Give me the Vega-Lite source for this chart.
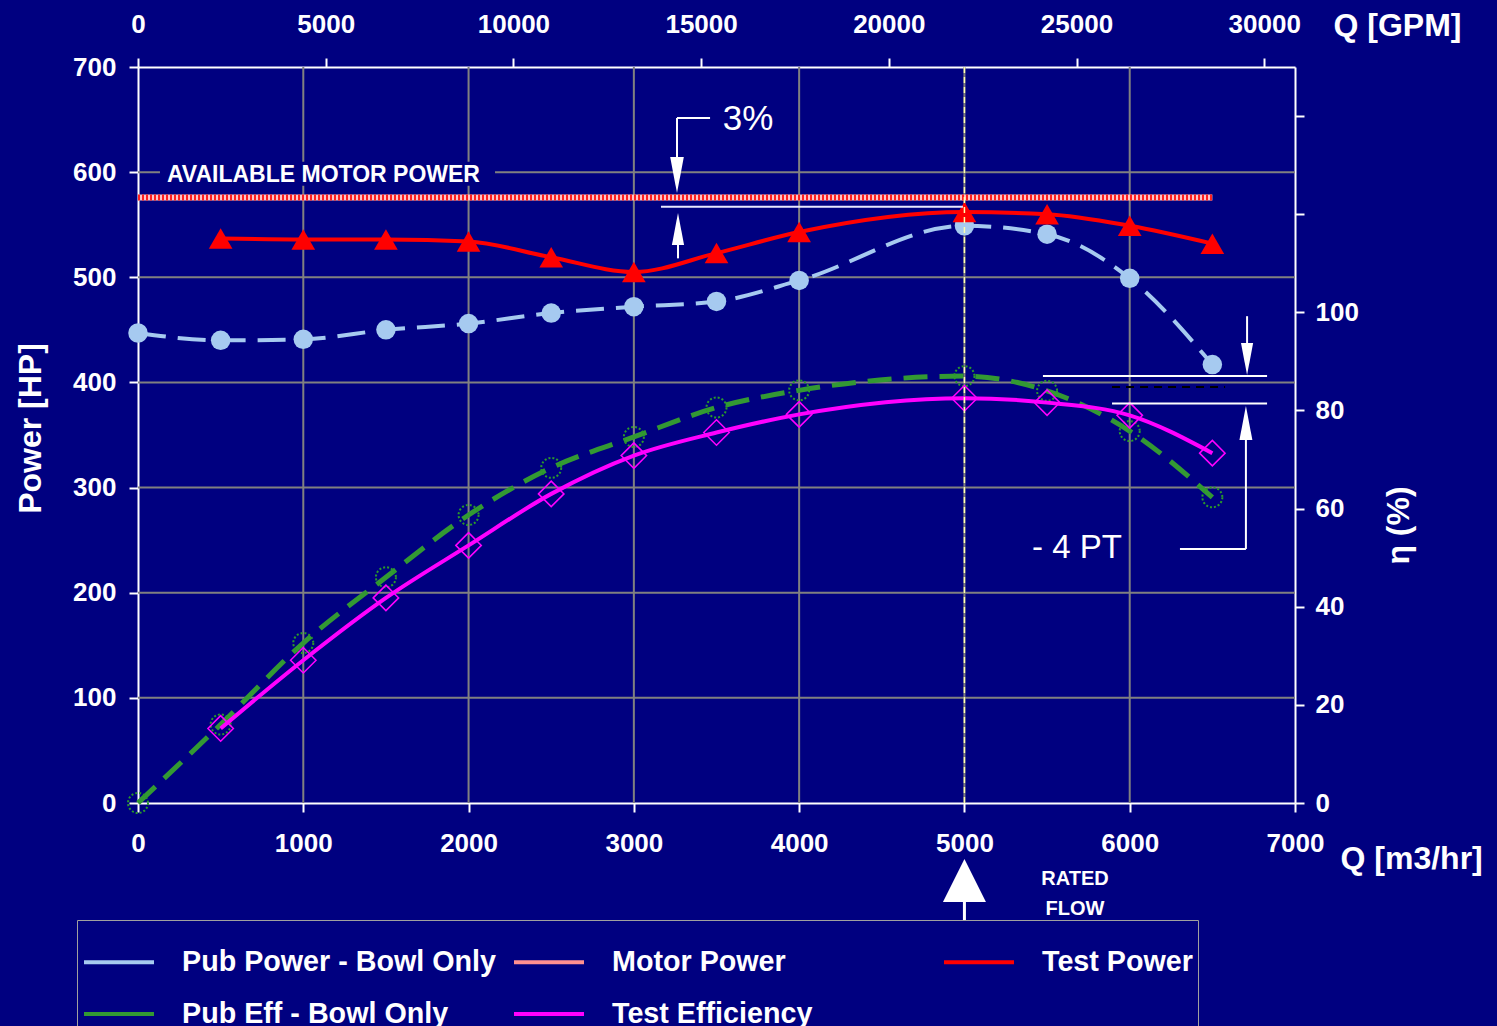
{
  "$schema": "https://vega.github.io/schema/vega-lite/v6.json",
  "width": 1157,
  "height": 736,
  "autosize": {"type": "none"},
  "padding": {"left": 138, "top": 67, "right": 202, "bottom": 223},
  "background": "#000080",
  "config": {
    "view": {"stroke": null},
    "font": "Liberation Sans",
    "axis": {
      "domainColor": "#ffffff", "domainWidth": 2,
      "tickColor": "#ffffff", "tickWidth": 2, "tickSize": 9,
      "labelColor": "#ffffff", "labelFont": "Liberation Sans", "labelFontSize": 26, "labelFontWeight": "bold",
      "titleColor": "#ffffff", "titleFont": "Liberation Sans", "titleFontSize": 32, "titleFontWeight": "bold",
      "grid": false, "labelOverlap": false, "labelFlush": false
    }
  },
  "datasets": {
    "power": [
      {"series": "Pub Power - Bowl Only", "Q": 0, "P": 447},
      {"series": "Pub Power - Bowl Only", "Q": 500, "P": 440},
      {"series": "Pub Power - Bowl Only", "Q": 1000, "P": 441},
      {"series": "Pub Power - Bowl Only", "Q": 1500, "P": 450},
      {"series": "Pub Power - Bowl Only", "Q": 2000, "P": 456},
      {"series": "Pub Power - Bowl Only", "Q": 2500, "P": 466},
      {"series": "Pub Power - Bowl Only", "Q": 3000, "P": 472},
      {"series": "Pub Power - Bowl Only", "Q": 3500, "P": 477},
      {"series": "Pub Power - Bowl Only", "Q": 4000, "P": 497},
      {"series": "Pub Power - Bowl Only", "Q": 5000, "P": 549},
      {"series": "Pub Power - Bowl Only", "Q": 5500, "P": 541},
      {"series": "Pub Power - Bowl Only", "Q": 6000, "P": 499},
      {"series": "Pub Power - Bowl Only", "Q": 6500, "P": 417},
      {"series": "Motor Power", "Q": 0, "P": 576},
      {"series": "Motor Power", "Q": 6500, "P": 576},
      {"series": "Test Power", "Q": 500, "P": 537},
      {"series": "Test Power", "Q": 1000, "P": 536},
      {"series": "Test Power", "Q": 1500, "P": 536},
      {"series": "Test Power", "Q": 2000, "P": 534},
      {"series": "Test Power", "Q": 2500, "P": 519},
      {"series": "Test Power", "Q": 3000, "P": 505},
      {"series": "Test Power", "Q": 3500, "P": 523},
      {"series": "Test Power", "Q": 4000, "P": 543},
      {"series": "Test Power", "Q": 5000, "P": 562},
      {"series": "Test Power", "Q": 5500, "P": 560},
      {"series": "Test Power", "Q": 6000, "P": 549},
      {"series": "Test Power", "Q": 6500, "P": 532}
    ],
    "eff": [
      {"series": "Pub Eff - Bowl Only", "Q": 0, "E": 0},
      {"series": "Pub Eff - Bowl Only", "Q": 500, "E": 16},
      {"series": "Pub Eff - Bowl Only", "Q": 1000, "E": 32.6},
      {"series": "Pub Eff - Bowl Only", "Q": 1500, "E": 46},
      {"series": "Pub Eff - Bowl Only", "Q": 2000, "E": 58.7},
      {"series": "Pub Eff - Bowl Only", "Q": 2500, "E": 68.3},
      {"series": "Pub Eff - Bowl Only", "Q": 3000, "E": 74.6},
      {"series": "Pub Eff - Bowl Only", "Q": 3500, "E": 80.6},
      {"series": "Pub Eff - Bowl Only", "Q": 4000, "E": 84.1},
      {"series": "Pub Eff - Bowl Only", "Q": 5000, "E": 87},
      {"series": "Pub Eff - Bowl Only", "Q": 5500, "E": 84},
      {"series": "Pub Eff - Bowl Only", "Q": 6000, "E": 75.8},
      {"series": "Pub Eff - Bowl Only", "Q": 6500, "E": 62.3},
      {"series": "Test Efficiency", "Q": 500, "E": 15.2},
      {"series": "Test Efficiency", "Q": 1000, "E": 29.1},
      {"series": "Test Efficiency", "Q": 1500, "E": 41.8},
      {"series": "Test Efficiency", "Q": 2000, "E": 52.5},
      {"series": "Test Efficiency", "Q": 2500, "E": 63},
      {"series": "Test Efficiency", "Q": 3000, "E": 70.8},
      {"series": "Test Efficiency", "Q": 3500, "E": 75.5},
      {"series": "Test Efficiency", "Q": 4000, "E": 79.2},
      {"series": "Test Efficiency", "Q": 5000, "E": 82.5},
      {"series": "Test Efficiency", "Q": 5500, "E": 81.6},
      {"series": "Test Efficiency", "Q": 6000, "E": 79},
      {"series": "Test Efficiency", "Q": 6500, "E": 71.3}
    ],
    "gridQ": [{"Q": 1000}, {"Q": 2000}, {"Q": 3000}, {"Q": 4000}, {"Q": 5000}, {"Q": 6000}],
    "gridP": [{"P": 100}, {"P": 200}, {"P": 300}, {"P": 400}, {"P": 500}, {"P": 600}],
    "one": [{}]
  },
  "resolve": {"scale": {"y": "independent"}, "axis": {"x": "independent", "y": "independent"}},
  "layer": [
    {
      "data": {"name": "gridQ"},
      "mark": {"type": "rule", "color": "#808080", "strokeWidth": 2},
      "encoding": {
        "x": {"field": "Q", "type": "quantitative", "scale": {"domain": [0, 7000], "nice": false, "zero": false}, "axis": null},
        "y": {"datum": 0, "scale": {"domain": [0, 700], "nice": false, "zero": false}, "axis": null},
        "y2": {"datum": 700}
      }
    },
    {
      "data": {"name": "gridP"},
      "mark": {"type": "rule", "color": "#808080", "strokeWidth": 2},
      "encoding": {
        "y": {"field": "P", "type": "quantitative", "scale": {"domain": [0, 700], "nice": false, "zero": false}, "axis": null},
        "x": {"datum": 0, "axis": null},
        "x2": {"datum": 7000}
      }
    },
    {
      "data": {"name": "one"},
      "mark": {"type": "rect", "color": "#000080"},
      "encoding": {
        "x": {"datum": 133, "axis": null}, "x2": {"datum": 2160},
        "y": {"datum": 587, "scale": {"domain": [0, 700], "nice": false, "zero": false}, "axis": null}, "y2": {"datum": 610}
      }
    },
    {
      "data": {"name": "power"},
      "transform": [{"filter": "datum.series === 'Pub Power - Bowl Only'"}],
      "mark": {"type": "line", "strokeWidth": 4, "strokeDash": [28, 12], "interpolate": "monotone"},
      "encoding": {
        "x": {"field": "Q", "type": "quantitative", "scale": {"domain": [0, 7000], "nice": false, "zero": false},
          "axis": {"orient": "bottom", "values": [0, 1000, 2000, 3000, 4000, 5000, 6000, 7000], "labelPadding": 18, "format": "d",
            "title": "Q [m3/hr]", "titleX": 1202, "titleY": 55, "titleAlign": "left", "titleAnchor": "start", "titleBaseline": "middle", "titleAngle": 0}},
        "y": {"field": "P", "type": "quantitative", "scale": {"domain": [0, 700], "nice": false, "zero": false},
          "axis": {"orient": "left", "values": [0, 100, 200, 300, 400, 500, 600, 700], "labelPadding": 13,
            "title": "Power [HP]", "titleX": -108, "titleY": 361, "titleAngle": 270, "titleAlign": "center", "titleBaseline": "middle"}},
        "color": {"field": "series", "type": "nominal",
          "scale": {"domain": ["Pub Power - Bowl Only", "Motor Power", "Test Power", "Pub Eff - Bowl Only", "Test Efficiency"], "range": ["#a6caf0", "#ff9090", "#ff0000", "#339933", "#ff00ff"]},
          "legend": {
            "title": null, "orient": "none", "legendX": -61, "legendY": 853, "direction": "horizontal", "columns": 3,
            "gridAlign": "all", "columnPadding": 10, "rowPadding": -32, "padding": 5,
            "fillColor": "#000080", "strokeColor": "#a0a0a0",
            "symbolType": "stroke", "symbolSize": 4900, "symbolStrokeWidth": 4, "symbolOffset": 0, "symbolDash": [], "symbolOpacity": 1,
            "labelFont": "Liberation Sans", "labelFontSize": 28.7, "labelFontWeight": "bold", "labelColor": "#ffffff", "labelOffset": 26, "labelLimit": 600
          }}
      }
    },
    {
      "data": {"name": "power"},
      "transform": [{"filter": "datum.series === 'Motor Power'"}],
      "mark": {"type": "line", "strokeWidth": 6, "color": "#ffc4c4"},
      "encoding": {
        "x": {"field": "Q", "type": "quantitative", "scale": {"domain": [0, 7000], "nice": false, "zero": false},
          "axis": {"orient": "top", "values": [0, 1135.62, 2271.25, 3406.87, 4542.49, 5678.11, 6813.74], "labelPadding": 21,
            "labelExpr": "format(round(datum.value * 4.402868), 'd')",
            "title": "Q [GPM]", "titleX": 1195, "titleY": -42, "titleAlign": "left", "titleAnchor": "start", "titleBaseline": "middle", "titleAngle": 0}},
        "y": {"field": "P", "type": "quantitative", "scale": {"domain": [0, 700], "nice": false, "zero": false}, "axis": null}
      }
    },
    {
      "data": {"name": "power"},
      "transform": [{"filter": "datum.series === 'Motor Power'"}],
      "mark": {"type": "line", "strokeWidth": 6, "color": "#ff2020", "strokeDash": [2, 2]},
      "encoding": {
        "x": {"field": "Q", "type": "quantitative", "axis": null},
        "y": {"field": "P", "type": "quantitative", "scale": {"domain": [0, 700], "nice": false, "zero": false}, "axis": null}
      }
    },
    {
      "data": {"name": "power"},
      "transform": [{"filter": "datum.series === 'Pub Power - Bowl Only'"}],
      "mark": {"type": "point", "shape": "circle", "filled": true, "size": 380, "color": "#a6caf0", "opacity": 1},
      "encoding": {
        "x": {"field": "Q", "type": "quantitative", "axis": null},
        "y": {"field": "P", "type": "quantitative", "scale": {"domain": [0, 700], "nice": false, "zero": false}, "axis": null}
      }
    },
    {
      "data": {"name": "power"},
      "transform": [{"filter": "datum.series === 'Test Power'"}],
      "mark": {"type": "line", "strokeWidth": 4, "interpolate": "monotone", "color": "#ff0000"},
      "encoding": {
        "x": {"field": "Q", "type": "quantitative", "axis": null},
        "y": {"field": "P", "type": "quantitative", "scale": {"domain": [0, 700], "nice": false, "zero": false}, "axis": null}
      }
    },
    {
      "data": {"name": "power"},
      "transform": [{"filter": "datum.series === 'Test Power'"}],
      "mark": {"type": "point", "shape": "triangle-up", "filled": true, "size": 560, "color": "#ff0000", "opacity": 1},
      "encoding": {
        "x": {"field": "Q", "type": "quantitative", "axis": null},
        "y": {"field": "P", "type": "quantitative", "scale": {"domain": [0, 700], "nice": false, "zero": false}, "axis": null}
      }
    },
    {
      "data": {"name": "eff"},
      "transform": [{"filter": "datum.series === 'Pub Eff - Bowl Only'"}],
      "mark": {"type": "line", "strokeWidth": 5, "strokeDash": [24, 12], "interpolate": "monotone", "color": "#339933"},
      "encoding": {
        "x": {"field": "Q", "type": "quantitative", "axis": null},
        "y": {"field": "E", "type": "quantitative", "scale": {"domain": [0, 150], "nice": false, "zero": false},
          "axis": {"orient": "right", "values": [0, 20, 40, 60, 80, 100, 120, 140], "labelPadding": 11,
            "labelExpr": "datum.value <= 100 ? datum.label : ''",
            "title": "η (%)", "titleX": 103, "titleY": 458, "titleAngle": 270, "titleAlign": "center", "titleBaseline": "middle"}}
      }
    },
    {
      "data": {"name": "eff"},
      "transform": [{"filter": "datum.series === 'Pub Eff - Bowl Only'"}],
      "mark": {"type": "point", "shape": "circle", "filled": false, "size": 400, "color": "#2a9a2a", "strokeWidth": 2, "strokeDash": [2, 2], "opacity": 1},
      "encoding": {
        "x": {"field": "Q", "type": "quantitative", "axis": null},
        "y": {"field": "E", "type": "quantitative", "scale": {"domain": [0, 150], "nice": false, "zero": false}, "axis": null}
      }
    },
    {
      "data": {"name": "eff"},
      "transform": [{"filter": "datum.series === 'Test Efficiency'"}],
      "mark": {"type": "line", "strokeWidth": 4, "interpolate": "monotone", "color": "#ff00ff"},
      "encoding": {
        "x": {"field": "Q", "type": "quantitative", "axis": null},
        "y": {"field": "E", "type": "quantitative", "scale": {"domain": [0, 150], "nice": false, "zero": false}, "axis": null}
      }
    },
    {
      "data": {"name": "eff"},
      "transform": [{"filter": "datum.series === 'Test Efficiency'"}],
      "mark": {"type": "point", "shape": "diamond", "filled": false, "size": 650, "color": "#ff00ff", "strokeWidth": 1.5, "opacity": 1},
      "encoding": {
        "x": {"field": "Q", "type": "quantitative", "axis": null},
        "y": {"field": "E", "type": "quantitative", "scale": {"domain": [0, 150], "nice": false, "zero": false}, "axis": null}
      }
    },
    {
      "data": {"name": "one"},
      "mark": {"type": "text", "text": "AVAILABLE MOTOR POWER", "font": "Liberation Sans", "fontSize": 23, "fontWeight": "bold", "color": "#ffffff", "align": "left", "baseline": "middle"},
      "encoding": {"x": {"datum": 175, "axis": null}, "y": {"datum": 597, "scale": {"domain": [0, 700], "nice": false, "zero": false}, "axis": null}}
    },
    {
      "data": {"name": "one"},
      "mark": {"type": "text", "text": "3%", "font": "Liberation Sans", "fontSize": 35, "color": "#ffffff", "align": "center", "baseline": "middle"},
      "encoding": {"x": {"datum": 3691, "axis": null}, "y": {"datum": 651, "scale": {"domain": [0, 700], "nice": false, "zero": false}, "axis": null}}
    },
    {
      "data": {"name": "one"},
      "mark": {"type": "rule", "color": "#ffffff", "strokeWidth": 2},
      "encoding": {"x": {"datum": 3261, "axis": null}, "x2": {"datum": 3461}, "y": {"datum": 651.5, "scale": {"domain": [0, 700], "nice": false, "zero": false}, "axis": null}}
    },
    {
      "data": {"name": "one"},
      "mark": {"type": "rule", "color": "#ffffff", "strokeWidth": 2},
      "encoding": {"x": {"datum": 3261, "axis": null}, "y": {"datum": 651.5, "scale": {"domain": [0, 700], "nice": false, "zero": false}, "axis": null}, "y2": {"datum": 605}}
    },
    {
      "data": {"name": "one"},
      "mark": {"type": "point", "shape": "M0,1L-0.38,-1L0.38,-1Z", "size": 1296, "filled": true, "color": "#ffffff", "opacity": 1},
      "encoding": {"x": {"datum": 3261, "axis": null}, "y": {"datum": 597.3, "scale": {"domain": [0, 700], "nice": false, "zero": false}, "axis": null}}
    },
    {
      "data": {"name": "one"},
      "mark": {"type": "rule", "color": "#e8e8ff", "strokeWidth": 2},
      "encoding": {"x": {"datum": 3164, "axis": null}, "x2": {"datum": 4991}, "y": {"datum": 567, "scale": {"domain": [0, 700], "nice": false, "zero": false}, "axis": null}}
    },
    {
      "data": {"name": "one"},
      "mark": {"type": "point", "shape": "M0,-1L-0.38,1L0.38,1Z", "size": 1024, "filled": true, "color": "#ffffff", "opacity": 1},
      "encoding": {"x": {"datum": 3267, "axis": null}, "y": {"datum": 546, "scale": {"domain": [0, 700], "nice": false, "zero": false}, "axis": null}}
    },
    {
      "data": {"name": "one"},
      "mark": {"type": "rule", "color": "#ffffff", "strokeWidth": 2},
      "encoding": {"x": {"datum": 3267, "axis": null}, "y": {"datum": 535, "scale": {"domain": [0, 700], "nice": false, "zero": false}, "axis": null}, "y2": {"datum": 518}}
    },
    {
      "data": {"name": "one"},
      "mark": {"type": "rule", "color": "#ffffff", "strokeWidth": 2},
      "encoding": {"x": {"datum": 5475, "axis": null}, "x2": {"datum": 6831}, "y": {"datum": 406, "scale": {"domain": [0, 700], "nice": false, "zero": false}, "axis": null}}
    },
    {
      "data": {"name": "one"},
      "mark": {"type": "rule", "color": "#ffffff", "strokeWidth": 2},
      "encoding": {"x": {"datum": 5893, "axis": null}, "x2": {"datum": 6831}, "y": {"datum": 380, "scale": {"domain": [0, 700], "nice": false, "zero": false}, "axis": null}}
    },
    {
      "data": {"name": "one"},
      "mark": {"type": "rule", "color": "#000000", "strokeWidth": 2, "strokeDash": [8, 6]},
      "encoding": {"x": {"datum": 5893, "axis": null}, "x2": {"datum": 6577}, "y": {"datum": 395.7, "scale": {"domain": [0, 700], "nice": false, "zero": false}, "axis": null}}
    },
    {
      "data": {"name": "one"},
      "mark": {"type": "rule", "color": "#ffffff", "strokeWidth": 2},
      "encoding": {"x": {"datum": 6710, "axis": null}, "y": {"datum": 463, "scale": {"domain": [0, 700], "nice": false, "zero": false}, "axis": null}, "y2": {"datum": 425}}
    },
    {
      "data": {"name": "one"},
      "mark": {"type": "point", "shape": "M0,1L-0.38,-1L0.38,-1Z", "size": 1024, "filled": true, "color": "#ffffff", "opacity": 1},
      "encoding": {"x": {"datum": 6710, "axis": null}, "y": {"datum": 422.3, "scale": {"domain": [0, 700], "nice": false, "zero": false}, "axis": null}}
    },
    {
      "data": {"name": "one"},
      "mark": {"type": "point", "shape": "M0,-1L-0.38,1L0.38,1Z", "size": 1156, "filled": true, "color": "#ffffff", "opacity": 1},
      "encoding": {"x": {"datum": 6703, "axis": null}, "y": {"datum": 361.4, "scale": {"domain": [0, 700], "nice": false, "zero": false}, "axis": null}}
    },
    {
      "data": {"name": "one"},
      "mark": {"type": "rule", "color": "#ffffff", "strokeWidth": 2},
      "encoding": {"x": {"datum": 6703, "axis": null}, "y": {"datum": 350, "scale": {"domain": [0, 700], "nice": false, "zero": false}, "axis": null}, "y2": {"datum": 241.6}}
    },
    {
      "data": {"name": "one"},
      "mark": {"type": "rule", "color": "#ffffff", "strokeWidth": 2},
      "encoding": {"x": {"datum": 6304, "axis": null}, "x2": {"datum": 6703}, "y": {"datum": 241.6, "scale": {"domain": [0, 700], "nice": false, "zero": false}, "axis": null}}
    },
    {
      "data": {"name": "one"},
      "mark": {"type": "text", "text": "- 4 PT", "font": "Liberation Sans", "fontSize": 33, "color": "#ffffff", "align": "center", "baseline": "middle"},
      "encoding": {"x": {"datum": 5681, "axis": null}, "y": {"datum": 242.5, "scale": {"domain": [0, 700], "nice": false, "zero": false}, "axis": null}}
    },
    {
      "data": {"name": "one"},
      "mark": {"type": "point", "shape": "M0,-1L1,1L-1,1Z", "size": 1849, "filled": true, "color": "#ffffff", "opacity": 1},
      "encoding": {"x": {"datum": 5000, "axis": null}, "y": {"datum": -73.7, "scale": {"domain": [0, 700], "nice": false, "zero": false}, "axis": null}}
    },
    {
      "data": {"name": "one"},
      "mark": {"type": "rule", "color": "#ffffff", "strokeWidth": 3},
      "encoding": {"x": {"datum": 5000, "axis": null}, "y": {"datum": -92, "scale": {"domain": [0, 700], "nice": false, "zero": false}, "axis": null}, "y2": {"datum": -113}}
    },
    {
      "data": {"name": "one"},
      "mark": {"type": "text", "text": "RATED", "font": "Liberation Sans", "fontSize": 20, "fontWeight": "bold", "color": "#ffffff", "align": "center", "baseline": "middle"},
      "encoding": {"x": {"datum": 5669, "axis": null}, "y": {"datum": -72.3, "scale": {"domain": [0, 700], "nice": false, "zero": false}, "axis": null}}
    },
    {
      "data": {"name": "one"},
      "mark": {"type": "text", "text": "FLOW", "font": "Liberation Sans", "fontSize": 20, "fontWeight": "bold", "color": "#ffffff", "align": "center", "baseline": "middle"},
      "encoding": {"x": {"datum": 5669, "axis": null}, "y": {"datum": -100.8, "scale": {"domain": [0, 700], "nice": false, "zero": false}, "axis": null}}
    },
    {
      "data": {"name": "one"},
      "mark": {"type": "rule", "color": "#ffffb0", "strokeWidth": 1.5, "strokeDash": [6, 4]},
      "encoding": {"x": {"datum": 5000, "axis": null}, "y": {"datum": 0, "scale": {"domain": [0, 700], "nice": false, "zero": false}, "axis": null}, "y2": {"datum": 700}}
    }
  ]
}
